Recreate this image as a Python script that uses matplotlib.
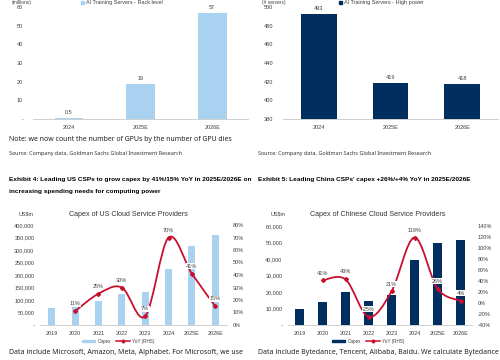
"""Recreation of a broker-report page: GPU / server bars and CSP capex charts."""

import matplotlib
matplotlib.use("Agg")
import matplotlib.pyplot as plt
from matplotlib.path import Path
from matplotlib.patches import PathPatch, Patch
from matplotlib.lines import Line2D
from matplotlib.ticker import FuncFormatter

# --- data -------------------------------------------------------------------
top_years = ["2024", "2025E", "2026E"]
rack_gpus = [0.5, 19, 57]
rack_labels = ["0.5", "19", "57"]
hp_servers = [493, 419, 418]

capex_years = ["2019", "2020", "2021", "2022", "2023", "2024", "2025E", "2026E"]
us_capex = [69000, 75000, 95000, 123000, 132000, 224000, 315000, 362000]
us_yoy = [11, 25, 30, 7, 70, 41, 15]          # 2020 .. 2026E
cn_capex = [9800, 13800, 19800, 14800, 17900, 39200, 49500, 51300]
cn_yoy = [41, 43, -25, 21, 119, 26, 4]         # 2020 .. 2026E

# --- style ------------------------------------------------------------------
LIGHT = "#a9d1f0"
NAVY = "#002f5f"
RED = "#c8102e"
GREY = "#404040"
CHART_FONT = "Liberation Sans"
BODY_FONT = "Noto Sans"

W, H = 500, 360
fig = plt.figure(figsize=(5, 3.6), dpi=100)


def box(l, t, r, b):
    return [l / W, 1 - b / H, (r - l) / W, (b - t) / H]


def ftext(x, y, s, **kw):
    kw.setdefault("va", "center")
    fig.text(x / W, 1 - y / H, s, **kw)


def clean(ax, keep_bottom=True):
    for side in ["top", "right", "left", "bottom"]:
        ax.spines[side].set_visible(False)
    if keep_bottom:
        ax.spines["bottom"].set_visible(True)
        ax.spines["bottom"].set_color("#c8c8c8")
        ax.spines["bottom"].set_linewidth(0.6)
    ax.tick_params(length=0, labelsize=4, labelcolor=GREY)
    for lab in ax.get_xticklabels() + ax.get_yticklabels():
        lab.set_fontfamily(CHART_FONT)


def smooth(xs, ys):
    # bezier smoothing of the line like the spreadsheet "smoothed line" option
    pts = list(zip(xs, ys))
    n = len(pts)
    verts = [pts[0]]
    codes = [Path.MOVETO]
    for i in range(n - 1):
        p0 = pts[i - 1] if i > 0 else pts[i]
        p1, p2 = pts[i], pts[i + 1]
        p3 = pts[i + 2] if i + 2 < n else pts[i + 1]
        c1 = (p1[0] + (p2[0] - p0[0]) / 6, p1[1] + (p2[1] - p0[1]) / 6)
        c2 = (p2[0] - (p3[0] - p1[0]) / 6, p2[1] - (p3[1] - p1[1]) / 6)
        verts += [c1, c2, p2]
        codes += [Path.CURVE4] * 3
    return Path(verts, codes)


# --- top row: bar charts ----------------------------------------------------
ax1 = fig.add_axes(box(33, 7, 248, 119))
ax1.bar(range(3), rack_gpus, width=0.4, color=LIGHT)
ax1.set_xlim(-0.5, 2.5)
ax1.set_ylim(0, 60)
ax1.set_yticks(range(0, 61, 10))
ax1.yaxis.set_major_formatter(FuncFormatter(lambda v, p: "-" if v == 0 else f"{v:.0f}"))
ax1.set_xticks(range(3), top_years)
for i, v in enumerate(rack_gpus):
    ax1.annotate(rack_labels[i], (i, v), xytext=(0, 2), textcoords="offset points",
                 ha="center", va="bottom", fontsize=4, color=GREY, family=CHART_FONT)
clean(ax1)
ax1.tick_params(axis="x", pad=4)
ax1.tick_params(axis="y", pad=7)

ax2 = fig.add_axes(box(283, 7, 498, 119))
ax2.bar(range(3), hp_servers, width=0.5, color=NAVY)
ax2.set_xlim(-0.5, 2.5)
ax2.set_ylim(380, 500)
ax2.set_yticks(range(380, 501, 20))
ax2.set_xticks(range(3), top_years)
for i, v in enumerate(hp_servers):
    ax2.annotate(str(v), (i, v), xytext=(0, 2), textcoords="offset points",
                 ha="center", va="bottom", fontsize=4, color=GREY, family=CHART_FONT)
clean(ax2)
ax2.tick_params(axis="x", pad=4)
ax2.tick_params(axis="y", pad=7)

ftext(12, 2.5, "(millions)", fontsize=3.5, color=GREY, family=CHART_FONT, ha="left")
ftext(262, 2.5, "(# servers)", fontsize=3.5, color=GREY, family=CHART_FONT, ha="left")
fig.patches.append(plt.Rectangle((81 / W, 1 - 4 / H), 3 / W, 3 / H, color=LIGHT,
                                 transform=fig.transFigure, figure=fig))
ftext(86, 2.5, "AI Training Servers - Rack level", fontsize=4, color=GREY,
      family=CHART_FONT, ha="left")
fig.patches.append(plt.Rectangle((339 / W, 1 - 4 / H), 3 / W, 3 / H, color=NAVY,
                                 transform=fig.transFigure, figure=fig))
ftext(344, 2.5, "AI Training Servers - High power", fontsize=4, color=GREY,
      family=CHART_FONT, ha="left")

ftext(9, 140, "Note: we now count the number of GPUs by the number of GPU dies",
      fontsize=5.0, color="#222222", family=BODY_FONT, ha="left")
ftext(9, 153, "Source: Company data, Goldman Sachs Global Investment Research",
      fontsize=3.9, color="#333333", family=BODY_FONT, ha="left")
ftext(258, 153, "Source: Company data, Goldman Sachs Global Investment Research",
      fontsize=3.9, color="#333333", family=BODY_FONT, ha="left")

# --- exhibit titles ---------------------------------------------------------
ftext(9, 180, "Exhibit 4: Leading US CSPs to grow capex by 41%/15% YoY in 2025E/2026E on",
      fontsize=4.65, weight="bold", color="black", family=CHART_FONT, ha="left")
ftext(9, 192, "increasing spending needs for computing power",
      fontsize=4.65, weight="bold", color="black", family=CHART_FONT, ha="left")
ftext(258, 180, "Exhibit 5: Leading China CSPs' capex +26%/+4% YoY in 2025E/2026E",
      fontsize=4.65, weight="bold", color="black", family=CHART_FONT, ha="left")


# --- bottom row: capex + YoY combo charts -----------------------------------
def combo(rect, capex, yoy, color, bar_w, ylim, ystep, rlim, rstep, title, title_x, unit_x):
    ax = fig.add_axes(rect)
    xs = list(range(len(capex)))
    ax.bar(xs, capex, width=bar_w, color=color)
    ax.set_xlim(-0.5, len(capex) - 0.5)
    ax.set_ylim(*ylim)
    ax.set_yticks(range(ylim[0], ylim[1] + 1, ystep))
    ax.yaxis.set_major_formatter(FuncFormatter(lambda v, p: "-" if v == 0 else f"{v:,.0f}"))
    ax.set_xticks(xs, capex_years)
    clean(ax)
    ax.tick_params(axis="y", pad=4)
    ax.tick_params(axis="x", pad=4)

    axr = ax.twinx()
    axr.set_ylim(*rlim)
    axr.set_yticks(range(rlim[0], rlim[1] + 1, rstep))
    axr.yaxis.set_major_formatter(FuncFormatter(lambda v, p: f"{v:.0f}%"))
    clean(axr, keep_bottom=False)
    axr.tick_params(axis="y", pad=4)
    lx = xs[1:]
    axr.add_patch(PathPatch(smooth(lx, yoy), fill=False, ec=RED, lw=1.3))
    axr.plot(lx, yoy, ls="none", marker="D", ms=2, color=RED)
    for x, v in zip(lx, yoy):
        axr.annotate(f"{v}%", (x, v), xytext=(0, 3.5), textcoords="offset points",
                     ha="center", va="bottom", fontsize=4, color=GREY, family=CHART_FONT,
                     bbox=dict(boxstyle="square,pad=0.1", fc="white", ec="none"))

    ftext(title_x, 214, title, fontsize=5.1, color="#333333", family=CHART_FONT, ha="center")
    ftext(unit_x, 214, "US$m", fontsize=4, color=GREY, family=CHART_FONT, ha="center")

    handles = [Patch(color=color),
               Line2D([], [], color=RED, lw=1.1, marker="D", ms=1.6)]
    ax.legend(handles, ["Capex", "YoY (RHS)"], ncol=2, loc="center",
              bbox_to_anchor=((title_x - 10) / W, 1 - 341 / H), bbox_transform=fig.transFigure,
              frameon=False, prop=dict(family=CHART_FONT, size=3.3), labelcolor=GREY,
              handlelength=3, handleheight=0.5, columnspacing=1.2, handletextpad=0.4)
    return ax


combo(box(40, 225, 227, 325), us_capex, us_yoy, LIGHT, 0.3, (0, 400000), 50000,
      (0, 80), 10, "Capex of US Cloud Service Providers", 128, 26)
combo(box(288, 226, 472, 325), cn_capex, cn_yoy, NAVY, 0.35, (0, 60000), 10000,
      (-40, 140), 20, "Capex of Chinese Cloud Service Providers", 378, 278)

ftext(9, 352, "Data include Microsoft, Amazon, Meta, Alphabet. For Microsoft, we use",
      fontsize=5.05, color="#222222", family=BODY_FONT, ha="left")
ftext(258, 352, "Data include Bytedance, Tencent, Alibaba, Baidu. We calculate Bytedance",
      fontsize=5.05, color="#222222", family=BODY_FONT, ha="left")

fig.savefig("out.png", dpi=100)
